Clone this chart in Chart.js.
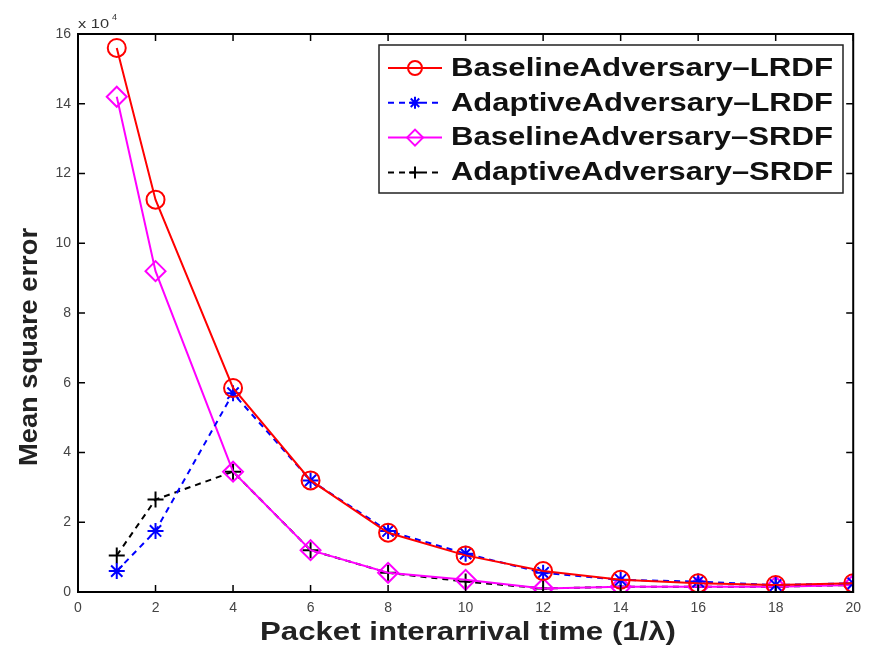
<!DOCTYPE html>
<html>
<head>
<meta charset="utf-8">
<script src="https://cdn.jsdelivr.net/npm/chart.js@4.4.0/dist/chart.umd.min.js"></script>
<style>
  body { margin: 0; background: #fff; }
  #wrap { width: 869px; height: 645px; position: relative; }
</style>
</head>
<body>
<div id="wrap"><canvas id="chart"></canvas></div>
<script>
// packet interarrival time (1/lambda)
var intervals = [1, 2, 4, 6, 8, 10, 12, 14, 16, 18, 20];
// mean square error, in units of 10^4
var baseLRDF = [15.6, 11.25, 5.85, 3.2, 1.7, 1.05, 0.6, 0.35, 0.25, 0.2, 0.25];
var adaptLRDF = [0.6, 1.75, 5.7, 3.2, 1.75, 1.1, 0.55, 0.35, 0.3, 0.2, 0.25];
var baseSRDF = [14.2, 9.2, 3.45, 1.2, 0.55, 0.35, 0.1, 0.15, 0.15, 0.15, 0.2];
var adaptSRDF = [1.05, 2.65, 3.45, 1.2, 0.55, 0.3, 0.1, 0.15, 0.15, 0.15, 0.2];
var seriesNames = ['BaselineAdversary\u2013LRDF', 'AdaptiveAdversary\u2013LRDF', 'BaselineAdversary\u2013SRDF', 'AdaptiveAdversary\u2013SRDF'];
var xTicks = [0, 2, 4, 6, 8, 10, 12, 14, 16, 18, 20];
var yTicks = [0, 2, 4, 6, 8, 10, 12, 14, 16];
var xTitle = 'Packet interarrival time (1/\u03bb)';
var yTitle = 'Mean square error';

var toPoints = function(vals){
  return vals.map(function(v, i){ return {x: intervals[i], y: v}; });
};

var mkSet = function(label, vals, color, style, radius, dash){
  return {
    label: label,
    data: toPoints(vals),
    borderColor: color,
    backgroundColor: 'rgba(0,0,0,0)',
    pointBorderColor: color,
    pointBackgroundColor: 'rgba(0,0,0,0)',
    pointStyle: style,
    pointRadius: radius,
    pointBorderWidth: 2,
    borderWidth: 2,
    borderDash: dash,
    tension: 0
  };
};

var datasets = [
  mkSet(seriesNames[0], baseLRDF, '#ff0000', 'circle', 9, []),
  mkSet(seriesNames[1], adaptLRDF, '#0000ff', 'star', 8, [6, 5]),
  mkSet(seriesNames[2], baseSRDF, '#ff00ff', 'rectRot', 10, []),
  mkSet(seriesNames[3], adaptSRDF, '#000000', 'cross', 8, [6, 5])
];

// text squeezed/stretched to a given width (the source image is stretched sideways)
var fitText = function(ctx, txt, x, y, w){
  var m = ctx.measureText(txt).width;
  ctx.save();
  ctx.translate(x, y);
  ctx.scale(w / m, 1);
  ctx.fillText(txt, 0, 0);
  ctx.restore();
};

// matlab style box, inward ticks, titles, exponent label and legend
var matlabBox = {
  id: 'matlabBox',
  afterDraw: function(chart){
    var ctx = chart.ctx, a = chart.chartArea;
    var xs = chart.scales.x, ys = chart.scales.y;
    ctx.save();
    ctx.strokeStyle = '#000';
    ctx.lineWidth = 2;
    ctx.strokeRect(a.left, a.top, a.right - a.left, a.bottom - a.top);
    ctx.lineWidth = 1.5;
    ctx.beginPath();
    xTicks.forEach(function(t){
      var px = xs.getPixelForValue(t);
      ctx.moveTo(px, a.bottom); ctx.lineTo(px, a.bottom - 7);
      ctx.moveTo(px, a.top); ctx.lineTo(px, a.top + 7);
    });
    yTicks.forEach(function(t){
      var py = ys.getPixelForValue(t);
      ctx.moveTo(a.left, py); ctx.lineTo(a.left + 7, py);
      ctx.moveTo(a.right, py); ctx.lineTo(a.right - 7, py);
    });
    ctx.stroke();

    // exponent
    ctx.fillStyle = '#333';
    ctx.textBaseline = 'alphabetic';
    ctx.font = '13px "Liberation Sans", Arial';
    fitText(ctx, 'x 10', a.left, a.top - 6, 31);
    ctx.font = '9px "Liberation Sans", Arial';
    ctx.fillText('4', a.left + 34, a.top - 14);

    // axis titles
    ctx.fillStyle = '#222';
    ctx.font = 'bold 25px "Liberation Sans", Arial';
    fitText(ctx, xTitle, 260, 640, 416);
    ctx.save();
    ctx.translate(37, 466);
    ctx.rotate(-Math.PI / 2);
    ctx.font = 'bold 26px "Liberation Sans", Arial';
    fitText(ctx, yTitle, 0, 0, 238);
    ctx.restore();

    // legend
    var lx = 379, ly = 45, lw = 464, lh = 148;
    ctx.fillStyle = '#fff';
    ctx.fillRect(lx, ly, lw, lh);
    ctx.strokeStyle = '#222';
    ctx.lineWidth = 1.5;
    ctx.strokeRect(lx, ly, lw, lh);
    ctx.font = 'bold 25px "Liberation Sans", Arial';
    ctx.textBaseline = 'middle';
    chart.data.datasets.forEach(function(ds, i){
      var cy = ly + 23 + i * 34.8;
      ctx.strokeStyle = ds.borderColor;
      ctx.lineWidth = 2;
      ctx.setLineDash(ds.borderDash);
      ctx.beginPath();
      ctx.moveTo(lx + 9, cy); ctx.lineTo(lx + 63, cy);
      ctx.stroke();
      ctx.setLineDash([]);
      ctx.fillStyle = 'rgba(0,0,0,0)';
      Chart.helpers.drawPoint(ctx, {pointStyle: ds.pointStyle, radius: ds.pointRadius - 2, borderWidth: 2, rotation: 0}, lx + 36, cy);
      ctx.fillStyle = '#111';
      fitText(ctx, ds.label, lx + 72, cy + 1, 382);
    });
    ctx.restore();
  }
};

new Chart(document.getElementById('chart'), {
  type: 'line',
  data: { datasets: datasets },
  plugins: [matlabBox],
  options: {
    responsive: true,
    maintainAspectRatio: false,
    animation: false,
    layout: { padding: { top: 34, right: 8, left: 0, bottom: 0 } },
    plugins: { legend: { display: false }, tooltip: { enabled: false } },
    scales: {
      x: {
        type: 'linear', min: 0, max: 20,
        afterBuildTicks: function(s){ s.ticks = xTicks.map(function(v){ return {value: v}; }); },
        afterFit: function(s){ s.height = 53; },
        grid: { display: false, drawTicks: false },
        border: { display: false },
        ticks: { padding: 8, color: '#444', font: { size: 14, family: '"Liberation Sans", Arial' }, maxRotation: 0 }
      },
      y: {
        type: 'linear', min: 0, max: 16,
        afterBuildTicks: function(s){ s.ticks = yTicks.map(function(v){ return {value: v}; }); },
        afterFit: function(s){ s.width = 78; },
        grid: { display: false, drawTicks: false },
        border: { display: false },
        ticks: { padding: 7, color: '#444', font: { size: 14, family: '"Liberation Sans", Arial' } }
      }
    }
  }
});
</script>
</body>
</html>
